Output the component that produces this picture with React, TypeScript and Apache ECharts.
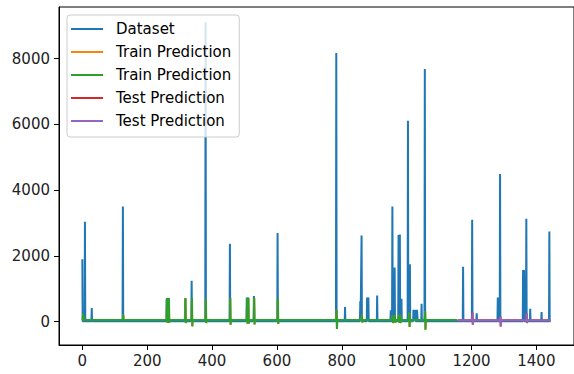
import React, { useEffect, useRef } from "react";
import * as echarts from "echarts";

// ---- data ----
const lastIndex = 1444;
const trainStart = 1;
const trainEnd = 1155;
const testStart = 1157;
const testEnd = 1443;

const datasetBase = 15;
const trainBase = 55;
const testBase = 45;

// [time index, value] of the departures from the flat baseline
const datasetSpikes: [number, number][] = [
  [0, 1900], [8, 3040], [29, 420], [125, 3500], [260, 700], [266, 700], [317, 700],
  [337, 1245], [380, 9100], [455, 2370], [507, 740], [511, 740], [529, 780], [602, 2700],
  [783, 8170], [810, 450], [857, 620], [861, 2620], [878, 740], [882, 740], [909, 800],
  [951, 345], [956, 3500], [963, 1650], [975, 2640], [979, 2650], [984, 700],
  [1004, 6110], [1010, 1750], [1021, 365], [1022, 365], [1026, 365], [1027, 365],
  [1032, 365], [1033, 365], [1046, 550], [1056, 7680], [1174, 1670], [1202, 3100],
  [1216, 260], [1281, 740], [1288, 4490], [1359, 1570], [1362, 1570], [1369, 3130],
  [1381, 395], [1416, 295], [1440, 2745],
];

const trainSpikes: [number, number][] = [
  [2, 240], [126, 210], [261, 720], [262, -30], [267, 720], [268, -30], [318, 720], [319, -40],
  [338, 720], [339, -140], [381, 700], [382, -40], [456, 720], [457, -90], [508, 720],
  [509, -60], [512, 720], [513, -60], [530, 720], [531, -80], [603, 720], [604, -70],
  [784, 360], [785, -220], [862, 210], [863, -20], [957, 180], [958, -40], [964, 200],
  [965, -30], [976, 200], [977, -30], [980, 210], [981, -40], [1008, 270], [1009, -160],
  [1057, 320], [1058, -240],
];

const testSpikes: [number, number][] = [
  [1203, 270], [1204, -90], [1289, 160], [1290, -140], [1370, 260], [1371, -40],
];

const xTicks = [0, 200, 400, 600, 800, 1000, 1200, 1400];
const yTicks = [0, 2000, 4000, 6000, 8000];

const seriesKeys = ["dataset", "train1", "train2", "test1", "test2"];
const seriesLabels = ["Dataset", "Train Prediction", "Train Prediction", "Test Prediction", "Test Prediction"];
const seriesColors = ["#1f77b4", "#ff7f0e", "#2ca02c", "#d62728", "#9467bd"];

function buildLine(start: number, end: number, base: number, spikes: [number, number][]) {
  const m = new Map<number, number>(spikes);
  const idx = new Set<number>([start, end]);
  for (const [i] of spikes) {
    idx.add(i);
    if (i - 1 >= start) idx.add(i - 1);
    if (i + 1 <= end) idx.add(i + 1);
  }
  return [...idx]
    .sort((a, b) => a - b)
    .map((i) => [i, m.has(i) ? (m.get(i) as number) : base]);
}

export default function App() {
  const ref = useRef<HTMLDivElement>(null);
  useEffect(() => {
    if (!ref.current) return;
    const chart = echarts.init(ref.current, undefined, { renderer: "svg" });
    const datasetLine = buildLine(0, lastIndex, datasetBase, datasetSpikes);
    const trainLine = buildLine(trainStart, trainEnd, trainBase, trainSpikes);
    const testLine = buildLine(testStart, testEnd, testBase, testSpikes);
    const lines = [datasetLine, trainLine, trainLine, testLine, testLine];
    const font = "DejaVu Sans";
    const labelMap: Record<string, string> = {};
    seriesKeys.forEach((k, i) => (labelMap[k] = seriesLabels[i]));
    const plain = (v: number) => String(v);

    chart.setOption({
      animation: false,
      backgroundColor: "#ffffff",
      grid: {
        left: 59,
        top: 7,
        right: -6,
        bottom: 29,
        show: true,
        borderColor: "#000",
        borderWidth: 1,
        backgroundColor: "transparent",
      },
      xAxis: {
        type: "value",
        min: -72,
        max: 1516,
        axisLine: { show: true, onZero: false, lineStyle: { color: "#000", width: 1 } },
        axisTick: { show: true, length: 5, lineStyle: { color: "#000", width: 1 }, customValues: xTicks },
        axisLabel: { customValues: xTicks, formatter: plain, color: "#222", fontFamily: font, fontSize: 15, margin: 8 },
        splitLine: { show: false },
      },
      yAxis: {
        type: "value",
        min: -707,
        max: 9567,
        axisLine: { show: true, onZero: false, lineStyle: { color: "#000", width: 1 } },
        axisTick: { show: true, length: 5, lineStyle: { color: "#000", width: 1 }, customValues: yTicks },
        axisLabel: { customValues: yTicks, formatter: plain, color: "#222", fontFamily: font, fontSize: 15, margin: 9 },
        splitLine: { show: false },
      },
      legend: {
        orient: "vertical",
        left: 67,
        top: 15,
        itemWidth: 32,
        itemHeight: 2,
        itemGap: 7,
        padding: [6, 8, 8, 4],
        backgroundColor: "rgba(255,255,255,0.8)",
        borderColor: "#cccccc",
        borderWidth: 1,
        borderRadius: 3,
        textStyle: { fontFamily: font, fontSize: 15, color: "#000", lineHeight: 16, padding: [0, 0, 0, 8] },
        data: seriesKeys.map((k) => ({ name: k, icon: "rect" })),
        formatter: (name: string) => labelMap[name] ?? name,
        selectedMode: false,
      },
      series: seriesKeys.map((k, i) => ({
        name: k,
        type: "line",
        data: lines[i],
        symbol: "none",
        showSymbol: false,
        color: seriesColors[i],
        lineStyle: { color: seriesColors[i], width: 2 },
        itemStyle: { color: seriesColors[i] },
        silent: true,
        z: 2 + i,
      })),
    });
    return () => chart.dispose();
  }, []);
  return (
    <div
      ref={ref}
      style={{ position: "fixed", left: 0, top: 0, width: 574, height: 374, background: "#fff" }}
    />
  );
}
